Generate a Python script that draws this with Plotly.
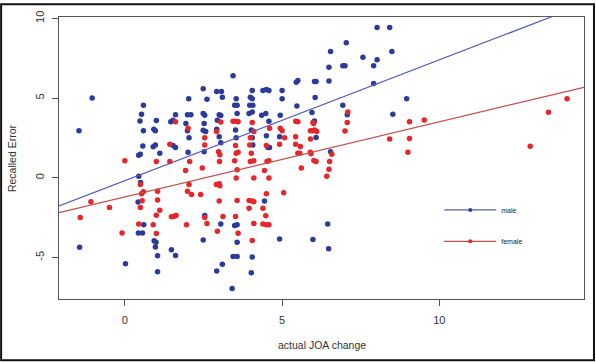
import plotly.graph_objects as go

# male (blue) points
male_x = [-1.04, -1.46, 0.59, 0.53, 0.48, 1.0, 0.59, 0.92, 0.97, 0.57, 0.9, 0.97, 0.49, 0.44,
          0.44, 0.5, 0.42, 0.6, 0.43, 0.56, 0.93, 0.99, -1.44, 0.97, 1.04, 0.02, 1.04, 1.11,
          1.61, 1.46, 1.53, 1.53, 1.61, 2.03, 1.99, 2.1, 1.94, 1.99, 2.04, 2.01, 1.48, 1.61,
          2.49, 2.61, 2.49, 2.54, 2.52, 2.49, 2.57, 2.52, 2.54, 3.05, 2.49, 2.92, 3.07, 3.1,
          3.0, 3.05, 2.94, 2.92, 3.0, 3.05, 2.92, 3.1, 3.41, 3.44,
          3.54, 3.49, 3.57, 3.57, 3.52, 3.54, 3.49, 3.57, 3.57, 3.44, 3.57, 4.05, 3.99, 4.05,
          3.97, 4.07, 3.95, 4.05, 4.02, 4.05, 4.07, 4.05, 4.02, 4.39, 4.5, 4.58, 4.48, 4.35,
          4.58, 4.5, 4.55, 4.6, 4.44, 5.0, 5.0, 4.94, 4.92, 4.92, 5.45, 5.5, 5.47,
          8.02, 8.42, 7.04, 6.54, 8.49, 7.57, 8.02, 6.49, 6.93, 7.0, 7.91, 6.03, 6.08, 6.49,
          7.91, 6.05, 8.96, 6.93, 5.95, 7.07, 8.52, 6.03, 6.08, 6.54, 6.45, 5.98, 6.48]
male_y = [5.0, 2.95, 4.55, 3.99, 3.57, 3.6, 2.95, 3.05, 2.95, 2.0, 1.95, 2.05, 1.48, 1.42,
          0.09, -0.3, -1.52, -2.95, -3.47, -3.47, -3.95, -4.05, -4.36, -4.35, -4.9, -5.4, -5.9, 1.54,
          3.96, 3.51, 3.61, 2.02, 1.9, 4.96, 3.96, 3.96, 3.4, 2.95, 2.51, 1.6, -4.52, -4.88,
          5.58, 4.92, 4.03, 3.93, 3.4, 2.98, 2.9, 1.64, -2.37, -2.9, -3.9, 5.42, 5.42, 5.06,
          3.96, 3.9, 3.61, 3.05, 2.58, 2.2, -5.85, -5.43, -6.95, 6.41,
          4.96, 4.55, 4.55, 4.03, 2.99, 2.51, -3.0, -2.95, -4.05, -4.94, -4.94, 5.48, 5.06, 4.96,
          4.55, 4.55, 4.03, 4.13, 2.99, 2.51, 2.06, -4.98, -5.97, 5.48, 5.54, 5.48, 4.03, 3.93,
          3.55, 2.64, 1.9, 1.9, -1.46, 5.48, 4.96, 3.93, 2.58, -3.84, 5.99, 6.1, 4.5,
          9.43, 9.43, 8.48, 7.92, 7.92, 7.57, 7.4, 6.94, 7.03, 7.03, 7.03, 6.04, 6.04, 6.08,
          5.91, 5.04, 4.96, 4.55, 4.09, 3.96, 3.99, 3.57, 2.53, 1.64, -2.91, -3.88, -4.46]

# female (red) points
female_x = [0.0, 1.0, 0.49, 0.59, 0.53, 1.04, -1.08, -0.49, 0.55, 0.49, 1.04, -1.42, 1.0, 0.44,
            0.9, -0.09, 1.0, 1.11,
            1.61, 1.43, 1.43, 2.01, 2.06, 1.93, 2.04, 1.99, 2.12, 2.41, 1.48, 1.57, 1.63, 1.96,
            2.54, 2.54, 2.46, 2.54, 2.61, 3.12, 2.94, 3.05, 2.92, 2.98, 3.02, 3.01, 2.91, 3.0,
            3.02, 3.0,
            3.44, 3.52, 3.6, 3.52, 3.54, 3.6, 3.49, 3.57, 3.54, 3.57, 3.52, 3.6, 4.05, 4.1,
            3.99, 3.97, 4.02, 3.99, 4.1, 4.1, 3.95, 4.05, 4.1, 3.95, 4.1, 4.05, 4.6, 4.5,
            4.58, 4.52, 4.44, 4.58, 4.5, 4.39, 4.48, 4.39, 4.5, 4.58, 4.94, 5.0, 4.92, 5.08,
            5.05, 5.43, 5.5, 5.43, 5.43, 5.58, 5.5, 5.56, 5.61,
            7.09, 5.98, 6.0, 7.07, 9.05, 5.9, 5.97, 6.03, 6.1, 7.0, 5.9, 8.42, 9.05, 9.0,
            5.9, 5.92, 6.58, 6.01, 6.08, 6.51, 6.49, 6.42, 9.52, 14.06, 13.47, 12.89]
female_y = [1.07, 1.02, -0.42, -0.88, -1.0, -0.84, -1.5, -1.87, -1.45, -1.87, -1.4, -2.5, -2.35, -2.9,
            -2.95, -3.47, -3.5, -2.04,
            3.51, 2.1, 1.02, 3.1, 1.02, 0.45, -0.42, -0.84, -1.05, -1.05, -2.45, -2.41, -2.37, -2.95,
            2.51, 2.06, 0.61, -2.5, -2.87, -2.43, -3.36, 3.5, 2.9, 1.64, 1.44, 1.02, -0.42, -0.38,
            -0.5, -1.46,
            3.55, 3.55, 3.51, 2.02, 1.54, 1.6, 1.07, 0.51, -0.01, -1.42, -2.43, -3.49, 3.47, 2.9,
            2.51, 2.06, 1.54, 1.02, 1.07, -0.01, -1.42, -1.46, -1.5, -1.91, -2.87, -3.94, 3.1, 2.02,
            1.07, 1.02, 0.45, -0.01, -1.0, -1.91, -2.39, -2.9, -2.95, -2.95, 3.1, 2.95, 2.1, 2.51,
            -0.94, 3.55, 3.51, 2.58, 2.1, 1.96, 1.54, 1.54, 0.61,
            4.13, 3.47, 3.4, 3.47, 3.51, 2.95, 2.95, 2.99, 2.9, 2.93, 2.43, 2.43, 2.47, 1.6,
            1.6, 1.5, 1.48, 1.09, 1.02, 1.02, 0.53, 0.09, 3.63, 4.96, 4.11, 1.98]

# fitted lines (intercept, slope)
male_fit = (-0.18, 0.758)
female_fit = (-1.20, 0.471)

x_range = [-2.095, 14.6]
y_range = [-7.61, 10.09]
x_ticks = [0, 5, 10]
y_ticks = [-5, 0, 5, 10]

BLUE = "#2c3b9a"
RED = "#e5262b"
BLUE_LINE = "#5a5ab8"
RED_LINE = "#c2504f"
FONT = "Liberation Sans, Arial, sans-serif"

fig = go.Figure()

fig.add_trace(go.Scatter(x=male_x, y=male_y, mode="markers", showlegend=False,
                         marker=dict(color=BLUE, size=5.5)))
fig.add_trace(go.Scatter(x=female_x, y=female_y, mode="markers", showlegend=False,
                         marker=dict(color=RED, size=5.5)))

for (a, b), col in [(male_fit, BLUE_LINE), (female_fit, RED_LINE)]:
    fig.add_trace(go.Scatter(x=x_range, y=[a + b * x for x in x_range], mode="lines",
                             showlegend=False, line=dict(color=col, width=1.2)))

# legend entries (no box, like R's bty="n")
fig.add_trace(go.Scatter(x=[None], y=[None], mode="lines+markers", name="male",
                         line=dict(color=BLUE_LINE, width=1.2),
                         marker=dict(color=BLUE, size=4), legend="legend"))
fig.add_trace(go.Scatter(x=[None], y=[None], mode="lines+markers", name="female",
                         line=dict(color=RED_LINE, width=1.2),
                         marker=dict(color=RED, size=4), legend="legend2"))

ml, mr, mt, mb = 59, 11, 14, 63
pw, ph = 596 - ml - mr, 362 - mt - mb

legend_style = dict(xanchor="left", yanchor="middle", bgcolor="rgba(0,0,0,0)",
                    borderwidth=0, itemwidth=52, font=dict(family=FONT, size=7, color="#222"))

axis_style = dict(showgrid=False, zeroline=False, showline=True, mirror=True,
                  linecolor="#555", linewidth=1, ticks="outside", ticklen=6,
                  tickcolor="#555", tickfont=dict(family=FONT, size=11, color="#333"))

fig.update_layout(
    width=596, height=362,
    margin=dict(l=ml, r=mr, t=mt, b=mb),
    paper_bgcolor="white", plot_bgcolor="white",
    xaxis=dict(range=x_range, tickvals=x_ticks, ticktext=[str(v) for v in x_ticks],
               ticklabelstandoff=5, **axis_style),
    yaxis=dict(range=y_range, tickvals=y_ticks, ticktext=[str(v) for v in y_ticks],
               tickangle=-90, ticklabelstandoff=4, **axis_style),
    legend=dict(x=(440 - ml) / pw, y=(299 - 209) / ph, **legend_style),
    legend2=dict(x=(440 - ml) / pw, y=(299 - 240.7) / ph, **legend_style),
    annotations=[
        dict(text="actual JOA change", xref="paper", yref="paper", x=0.5, y=(299 - 345) / ph,
             xanchor="center", yanchor="middle", showarrow=False,
             font=dict(family=FONT, size=10.5, color="#333")),
        dict(text="Recalled Error", xref="paper", yref="paper", x=(12 - ml) / pw, y=0.5,
             xanchor="center", yanchor="middle", textangle=-90, showarrow=False,
             font=dict(family=FONT, size=10.5, color="#333")),
    ],
    shapes=[dict(type="rect", xref="paper", yref="paper",
                 x0=(1 - ml) / pw, x1=1 + (mr - 1) / pw,
                 y0=(1 - mb) / ph, y1=1 + (mt - 1) / ph,
                 line=dict(color="#111", width=2))],
)

# drop the default body margin so the figure sits at the window's corner
fig.write_html("out.html", config={"displayModeBar": False},
               post_script="document.body.style.margin='0';document.body.style.overflow='hidden';")
